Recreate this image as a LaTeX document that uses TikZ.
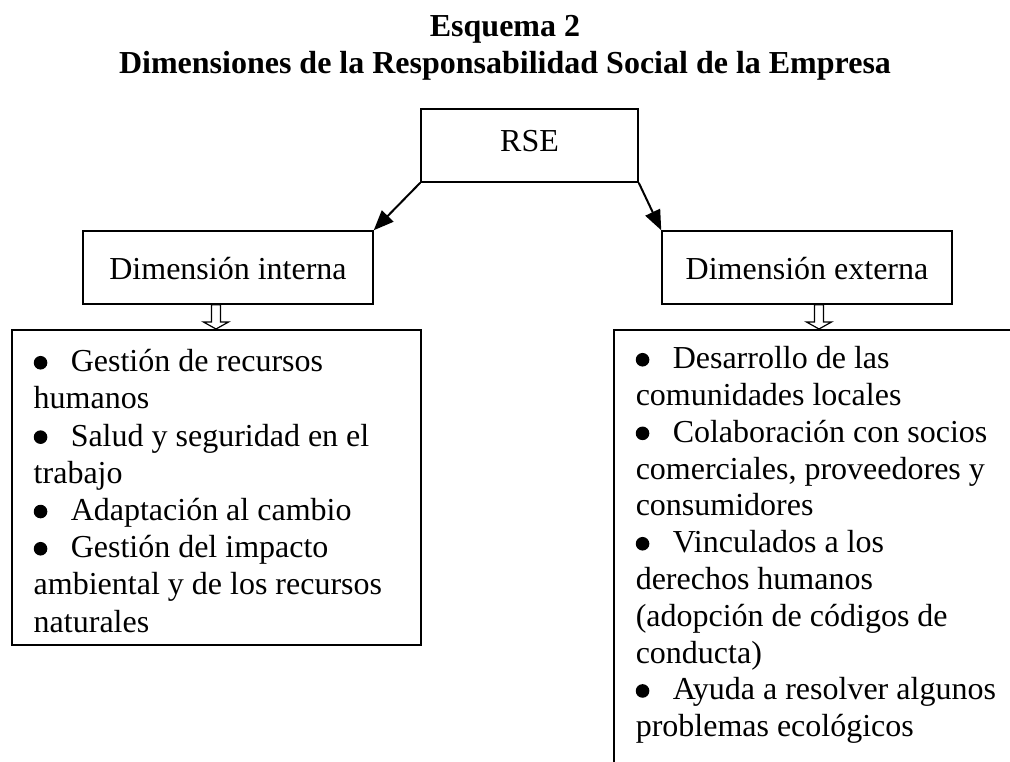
\documentclass[tikz,border=0pt]{standalone}
\usepackage{fontspec}
\setmainfont{Liberation Serif}
\usetikzlibrary{arrows.meta,calc}
\setlength{\parindent}{0pt}
\newcommand{\rsebul}{\makebox[37pt][l]{\tikz[baseline=0pt]\fill (6.5pt,9pt) circle[radius=6.8pt];}}
\newcommand{\rsefix}{\raggedright\spaceskip=\fontdimen2\font\relax}
\begin{document}
\begin{tikzpicture}[x=1pt,y=-1pt,
  box/.style={draw,line width=1.5pt,inner sep=0pt},
  big/.style={font=\fontsize{32}{36.8}\selectfont},
  titlefont/.style={font=\bfseries\fontsize{32}{36.8}\selectfont},
  link/.style={line width=2pt,-{Triangle[length=20pt,width=16pt]}},
  hollow/.style={draw,line width=1.2pt,fill=white,line join=miter}]
\useasboundingbox (0,0) rectangle (1010,761);
\clip (0,0) rectangle (1010,761);
\node[titlefont,anchor=base] (title1) at (505,36) {Esquema 2};
\node[titlefont,anchor=base] (title2) at (505,73) {Dimensiones de la Responsabilidad Social de la Empresa};
\node[box,big,minimum width=217pt,minimum height=73pt,text height=21pt,text depth=9pt] (rse) at (529.5,145.5) {RSE};
\node[box,big,minimum width=290pt,minimum height=73pt,text height=23pt,text depth=0pt] (dimint) at (228,267.5) {Dimensión interna};
\node[box,big,minimum width=290pt,minimum height=73pt,text height=23pt,text depth=0pt] (dimext) at (807,267.5) {Dimensión externa};
\node[box,font=\fontsize{32}{37.2}\selectfont,anchor=north west,text width=365pt,align=left,inner xsep=22pt,inner ysep=0pt] (listint) at (11,329)
 {\rsefix\rule{0pt}{42pt}\rsebul Gestión de recursos\\
  humanos\\
  \rsebul Salud y seguridad en el\\
  trabajo\\
  \rsebul Adaptación al cambio\\
  \rsebul Gestión del impacto\\
  ambiental y de los recursos\\
  naturales\rule[-12.6pt]{0pt}{12.6pt}};
\node[box,big,anchor=north west,text width=373pt,align=left,inner xsep=22pt,inner ysep=0pt] (listext) at (613,329)
 {\rsefix\rule{0pt}{39pt}\rsebul Desarrollo de las\\
  comunidades locales\\
  \rsebul Colaboración con socios\\
  comerciales, proveedores y\\
  consumidores\\
  \rsebul Vinculados a los\\
  derechos humanos\\
  (adopción de códigos de\\
  conducta)\\
  \rsebul Ayuda a resolver algunos\\
  problemas ecológicos\rule[-60pt]{0pt}{60pt}};
\draw[link] (rse.south west) -- (dimint.north east);
\draw[link] (rse.south east) -- (dimext.north west);
\coordinate (a1) at ([xshift=-12pt]dimint.south);
\coordinate (t1) at (a1 |- listint.north);
\path[hollow] ([xshift=-4.5pt]a1) -- ([xshift=-4.5pt,yshift=7pt]t1) -- ([xshift=-12.5pt,yshift=7pt]t1) -- (t1) -- ([xshift=12.5pt,yshift=7pt]t1) -- ([xshift=4.5pt,yshift=7pt]t1) -- ([xshift=4.5pt]a1) -- cycle;
\coordinate (a2) at ([xshift=12pt]dimext.south);
\coordinate (t2) at (a2 |- listext.north);
\path[hollow] ([xshift=-4.5pt]a2) -- ([xshift=-4.5pt,yshift=7pt]t2) -- ([xshift=-12.5pt,yshift=7pt]t2) -- (t2) -- ([xshift=12.5pt,yshift=7pt]t2) -- ([xshift=4.5pt,yshift=7pt]t2) -- ([xshift=4.5pt]a2) -- cycle;
\end{tikzpicture}
\end{document}
